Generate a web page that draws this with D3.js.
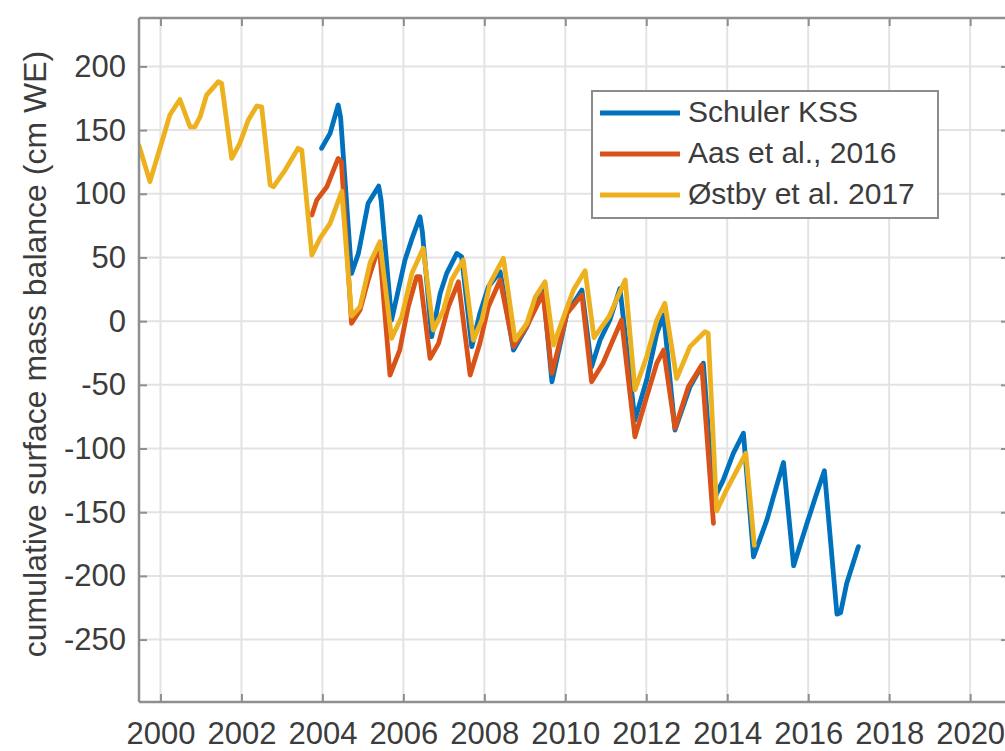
<!DOCTYPE html>
<html>
<head>
<meta charset="utf-8">
<script src="https://cdn.jsdelivr.net/npm/d3@7/dist/d3.min.js"></script>
<style>
  html, body { margin: 0; padding: 0; background: #fff; }
  svg { display: block; }
  text { font-family: "Liberation Sans", Arial, sans-serif; fill: #3c3c3c; }
</style>
</head>
<body>
<svg id="chart" width="1005" height="751"></svg>
<script>
// ---------- data ----------
const seriesNames = ["Schuler KSS", "Aas et al., 2016", "Østby et al. 2017"];
const seriesColors = ["#0072BD", "#D95319", "#EDB120"];

const schulerT = [2003.98, 2004.19, 2004.39, 2004.45, 2004.72, 2004.89, 2005.13, 2005.39, 2005.45, 2005.71, 2006.04, 2006.20, 2006.41, 2006.47, 2006.70, 2006.91, 2007.07, 2007.32, 2007.44, 2007.69, 2007.89, 2008.10, 2008.39, 2008.72, 2009.05, 2009.45, 2009.67, 2010.04, 2010.41, 2010.65, 2010.86, 2011.10, 2011.35, 2011.72, 2012.01, 2012.26, 2012.43, 2012.71, 2013.08, 2013.41, 2013.66, 2013.90, 2014.15, 2014.40, 2014.65, 2014.98, 2015.14, 2015.39, 2015.64, 2015.97, 2016.21, 2016.40, 2016.71, 2016.80, 2016.95, 2017.24];
const schulerV = [135.7, 147.4, 169.7, 160, 37.5, 53.2, 92.5, 106, 95, 0.9, 48, 63.6, 82, 70, -12.2, 21.8, 37.5, 53.2, 50.6, -20, 6.1, 27, 38.8, -22.7, -4.4, 27, -47.6, 6.1, 24.4, -35.8, -14.8, 0.9, 25.7, -77.6, -46.2, -9.6, 4.8, -85.5, -51.5, -33, -140.5, -124.8, -103.8, -88, -185, -156, -138, -111, -192, -158.7, -135.2, -117.5, -230, -229, -205.9, -177];

const aasT = [2003.74, 2003.86, 2004.11, 2004.39, 2004.47, 2004.72, 2004.93, 2005.13, 2005.34, 2005.42, 2005.67, 2005.91, 2006.12, 2006.33, 2006.41, 2006.66, 2006.87, 2007.11, 2007.36, 2007.65, 2007.89, 2008.10, 2008.39, 2008.72, 2009.05, 2009.45, 2009.67, 2010.04, 2010.41, 2010.65, 2010.93, 2011.39, 2011.72, 2012.01, 2012.26, 2012.43, 2012.71, 2013.04, 2013.37, 2013.66];
const aasV = [83.3, 95, 105.5, 127.8, 125, -1.7, 8.7, 32.3, 53.2, 53.2, -42.3, -22.7, 11.3, 34.9, 34.9, -29.2, -17.4, 11.3, 30.9, -42.3, -17.4, 11.3, 32.3, -20, -4, 21.8, -41, 6.1, 20.5, -47.6, -33, 0.9, -90.8, -59.4, -33, -22.7, -84.2, -51.5, -34.5, -158.7];

const ostbyT = [1999.47, 1999.74, 2000.11, 2000.23, 2000.48, 2000.73, 2000.85, 2000.98, 2001.14, 2001.43, 2001.51, 2001.76, 2001.96, 2002.17, 2002.38, 2002.50, 2002.71, 2002.79, 2003.08, 2003.40, 2003.49, 2003.74, 2003.94, 2004.19, 2004.48, 2004.72, 2004.93, 2005.18, 2005.42, 2005.71, 2005.96, 2006.21, 2006.49, 2006.74, 2006.99, 2007.19, 2007.48, 2007.73, 2007.94, 2008.14, 2008.47, 2008.76, 2009.05, 2009.26, 2009.50, 2009.71, 2009.99, 2010.20, 2010.49, 2010.71, 2011.08, 2011.48, 2011.72, 2012.01, 2012.26, 2012.46, 2012.75, 2013.08, 2013.45, 2013.53, 2013.74, 2013.99, 2014.46, 2014.67];
const ostbyV = [138, 109.5, 148.7, 161.8, 174, 152.6, 152.6, 160.5, 177.5, 188, 186.7, 127.8, 139.6, 157.9, 168.9, 168.3, 106.9, 105.5, 118.6, 135.7, 134.3, 51.9, 65, 76.8, 102, 4, 11.3, 46, 62.3, -13.5, 3.5, 37.5, 57.2, -7, 8.7, 32.3, 48, -14.8, 0.9, 29.7, 49.3, -14.8, -1.7, 19.2, 30.9, -18.8, 6.1, 24.4, 39.5, -13, 3.5, 32.3, -54, -28, 0.9, 14, -45, -20, -8.3, -9.6, -149, -132, -103.8, -176];

const xTicks = [2000, 2002, 2004, 2006, 2008, 2010, 2012, 2014, 2016, 2018, 2020];
const yTicks = [-250, -200, -150, -100, -50, 0, 50, 100, 150, 200];
const yLabel = "cumulative surface mass balance (cm WE)";

// ---------- layout ----------
const svg = d3.select("#chart");
const L = 139, R = 1009, T = 18, B = 702;
const x = d3.scaleLinear().domain([1999.47, 2020.96]).range([L, R]);
const y = d3.scaleLinear().domain([-299, 238]).range([B, T]);

const gridColor = "#e3e3e3";
const axisColor = "#8f8f8f";

// grid
svg.append("g").selectAll("line").data(xTicks).join("line")
  .attr("x1", d => x(d)).attr("x2", d => x(d)).attr("y1", T).attr("y2", B)
  .attr("stroke", gridColor).attr("stroke-width", 2);
svg.append("g").selectAll("line").data(yTicks).join("line")
  .attr("y1", d => y(d)).attr("y2", d => y(d)).attr("x1", L).attr("x2", R)
  .attr("stroke", gridColor).attr("stroke-width", 2);

// series (drawn in legend order: blue at bottom, yellow on top)
svg.append("clipPath").attr("id", "clip").append("rect")
  .attr("x", L).attr("y", T).attr("width", R - L).attr("height", B - T);
const line = d3.line().x(d => x(d[0])).y(d => y(d[1]));
const series = [
  d3.zip(schulerT, schulerV),
  d3.zip(aasT, aasV),
  d3.zip(ostbyT, ostbyV)
];
const gLines = svg.append("g").attr("clip-path", "url(#clip)");
series.forEach((s, i) => {
  gLines.append("path").datum(s).attr("d", line)
    .attr("fill", "none").attr("stroke", seriesColors[i])
    .attr("stroke-width", 4.8).attr("stroke-linejoin", "round").attr("stroke-linecap", "round");
});

// axes (MATLAB style: box, inward ticks)
const fmt = d => String(d);
const xAxisB = d3.axisBottom(x).tickValues(xTicks).tickSize(-8).tickPadding(20).tickFormat(fmt);
const xAxisT = d3.axisTop(x).tickValues(xTicks).tickSize(-8).tickFormat("");
const yAxisL = d3.axisLeft(y).tickValues(yTicks).tickSize(-8).tickPadding(13).tickFormat(fmt);
const yAxisR = d3.axisRight(y).tickValues(yTicks).tickSize(-8).tickFormat("");

function styleAxis(g) {
  g.select(".domain").attr("stroke", axisColor).attr("stroke-width", 2.5);
  g.selectAll(".tick line").attr("stroke", axisColor).attr("stroke-width", 2);
  g.selectAll(".tick text").attr("font-family", "Liberation Sans, Arial, sans-serif")
    .attr("font-size", 31).attr("fill", "#3c3c3c");
  g.attr("font-size", 31);
}
svg.append("g").attr("transform", `translate(0,${B})`).call(xAxisB).call(styleAxis)
  .call(g => g.select(".domain").attr("d", `M${L},0H${R}`));
svg.append("g").attr("transform", `translate(0,${T})`).call(xAxisT).call(styleAxis)
  .call(g => g.select(".domain").attr("d", `M${L},0H${R}`));
svg.append("g").attr("transform", `translate(${L},0)`).call(yAxisL).call(styleAxis)
  .call(g => g.select(".domain").attr("d", `M0,${T}V${B}`));
svg.append("g").attr("transform", `translate(${R},0)`).call(yAxisR).call(styleAxis)
  .call(g => g.select(".domain").attr("d", `M0,${T}V${B}`));

// y label
svg.append("text")
  .attr("transform", `translate(38,${(T + B) / 2 - 6}) rotate(-90)`)
  .attr("text-anchor", "middle").attr("dominant-baseline", "middle")
  .attr("font-size", 32).text(yLabel);

// legend
const lg = svg.append("g");
lg.append("rect").attr("x", 592).attr("y", 91).attr("width", 346).attr("height", 127)
  .attr("fill", "#fff").attr("stroke", "#8c8c8c").attr("stroke-width", 2);
seriesNames.forEach((name, i) => {
  const yy = 113 + i * 41;
  lg.append("line").attr("x1", 600).attr("x2", 680).attr("y1", yy).attr("y2", yy)
    .attr("stroke", seriesColors[i]).attr("stroke-width", 4.8);
  lg.append("text").attr("x", 688).attr("y", yy + 1).attr("dominant-baseline", "middle")
    .attr("font-size", 30).attr("fill", "#262626").text(name);
});
</script>
</body>
</html>
